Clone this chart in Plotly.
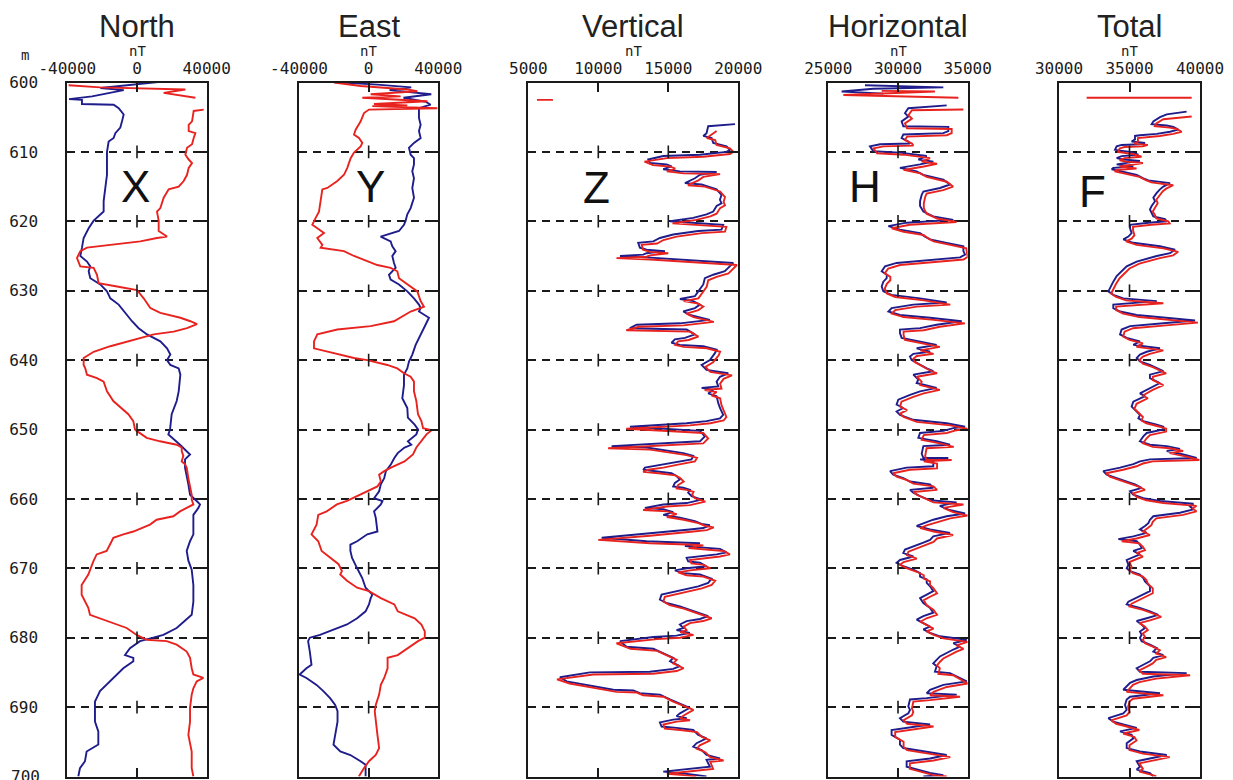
import plotly.graph_objects as go

# ---------------- data (depth in m, field in nT) ----------------
depth_ticks = [600, 610, 620, 630, 640, 650, 660, 670, 680, 690, 700]

north_blue_depth = [599.9, 600.8, 601.1, 602.0, 602.4, 602.5, 603.1, 603.2, 603.7, 604.6, 605.6, 606.5, 607.3, 608.0, 608.5, 610.0, 611.3, 613.3, 615.2, 617.1, 618.6, 619.9, 621.0, 622.4, 623.8, 625.0, 625.8, 626.5, 627.2, 628.2, 629.1, 630.1, 631.1, 632.0, 633.5, 634.4, 635.4, 636.3, 637.3, 638.3, 639.2, 640.0, 640.7, 641.2, 642.1, 644.5, 645.9, 647.8, 650.0, 650.7, 652.2, 653.6, 654.3, 655.5, 657.9, 659.4, 660.3, 660.8, 661.3, 662.3, 665.1, 666.1, 667.5, 668.9, 670.2, 672.4, 674.8, 676.7, 678.6, 679.1, 679.6, 680.0, 680.5, 681.5, 682.5, 682.9, 683.4, 684.4, 685.8, 686.8, 687.7, 688.2, 689.2, 690.1, 692.1, 693.5, 695.4, 696.4, 697.8, 698.8, 700.0]
north_blue_nt = [13400, -21000, -7600, -25800, -39000, -31600, -31600, -13400, -10500, -7650, -8600, -9570, -12440, -13400, -16270, -17230, -17230, -17230, -18180, -19140, -19140, -24880, -27750, -30620, -31580, -32540, -28710, -26800, -27750, -26800, -21050, -17230, -15310, -10530, -5740, -2870, 960, 5740, 13400, 17230, 19140, 17230, 19140, 23930, 24880, 23930, 22780, 19900, 18950, 17990, 24690, 30430, 27560, 27560, 29480, 30430, 34260, 36170, 35220, 32350, 32350, 30430, 28520, 29480, 31390, 32350, 32350, 31390, 22780, 18950, 15120, 9380, 1720, -4020, -6890, -2110, -2110, -7850, -13590, -17420, -21250, -22200, -24120, -24120, -24120, -22200, -22200, -28900, -29860, -32730, -33690]

north_red_depth = [600.4, 600.7, 601.0, 601.5, 602.2, None, 603.9, 604.1, 605.6, 606.1, 607.0, 607.3, 608.0, 608.9, 609.4, 610.4, 611.1, 611.6, 612.3, 613.3, 614.2, 615.0, 615.4, 616.6, 618.1, 618.6, 619.9, 621.4, 622.2, 622.4, 622.9, 623.4, 623.8, 624.3, 625.3, 626.5, 626.7, 627.7, 628.9, 629.4, 629.9, 631.1, 632.5, 633.2, 633.5, 633.9, 634.4, 634.8, 635.4, 635.9, 636.3, 636.8, 637.3, 638.0, 638.8, 639.7, 640.7, 641.2, 642.1, 642.6, 643.1, 644.5, 645.9, 647.4, 647.8, 648.8, 650.0, 650.2, 651.2, 651.7, 652.2, 652.6, 653.1, 653.8, 654.6, 655.0, 655.5, 657.0, 658.4, 659.4, 660.1, 660.8, 661.3, 661.8, 662.5, 663.0, 663.7, 664.7, 665.1, 665.6, 666.1, 667.5, 668.0, 669.0, 670.9, 672.4, 673.8, 674.8, 675.7, 676.7, 677.2, 678.1, 678.6, 679.6, 680.3, 680.5, 681.0, 682.0, 682.9, 684.4, 685.3, 685.8, 686.3, 687.3, 688.2, 690.1, 692.1, 694.0, 696.4, 698.8, 700.0]
north_red_nt = [-39240, -21050, 27750, 15310, 33500, None, 38280, 32540, 31580, 29670, 29670, 33500, 32540, 31580, 28710, 27750, 29670, 31580, 29670, 28710, 26800, 23930, 18180, 15310, 13400, 11480, 12440, 12440, 17230, 11480, 1910, -13400, -28710, -32540, -34450, -32540, -24880, -22970, -22010, -11480, 0, 3830, 7660, 13400, 19140, 24880, 30620, 34450, 28710, 21050, 9570, 1910, -5740, -15310, -24880, -30620, -30620, -29670, -28710, -22970, -19140, -17230, -13590, -6890, -4980, -2110, -1150, -190, 5550, 13210, 22780, 25650, 25650, 26600, 25650, 27560, 28520, 29480, 30430, 31390, 31390, 32350, 28520, 24690, 20860, 11290, 7460, -2110, -7850, -13590, -14550, -17420, -23160, -25070, -27940, -31770, -31770, -29860, -27940, -26990, -21250, -11680, -5930, -190, 5550, 17030, 22780, 28520, 30430, 31390, 32350, 38090, 34260, 32350, 31390, 30430, 30430, 29480, 31390, 31390, 32350]

east_blue_depth = [599.8, 600.3, 600.7, 601.1, 601.7, 602.2, 602.8, 603.2, 603.7, 605.1, 606.1, 607.0, 608.0, 608.7, 609.4, 610.4, 610.9, 611.8, 612.8, 613.8, 615.2, 616.6, 618.1, 619.0, 619.9, 620.5, 621.4, 622.2, 622.9, 623.6, 624.3, 625.0, 626.0, 626.7, 627.7, 628.4, 629.1, 630.1, 631.1, 632.0, 632.5, 633.0, 633.9, 634.9, 635.9, 636.8, 637.8, 639.2, 640.2, 641.2, 642.1, 643.6, 645.5, 646.9, 648.3, 649.3, 650.0, 650.7, 651.7, 652.2, 652.6, 653.4, 654.1, 655.0, 656.0, 657.0, 657.9, 658.9, 659.9, 660.3, 660.8, 661.8, 662.7, 664.7, 665.1, 666.1, 666.6, 667.5, 668.5, 670.0, 671.4, 672.8, 673.8, 674.3, 675.2, 676.2, 677.2, 678.1, 679.1, 679.6, 680.0, 680.5, 682.0, 683.9, 684.4, 685.3, 685.8, 686.8, 687.7, 688.7, 689.7, 690.6, 692.1, 694.0, 695.4, 696.4, 696.9, 697.8, 698.3, 700.0]
east_blue_nt = [-30200, 5000, 24460, 12000, 35970, 20000, 33000, 35600, 28900, 28900, 29860, 28900, 29860, 26030, 23160, 24120, 26030, 26030, 25070, 26030, 25070, 26030, 24120, 22200, 21250, 20290, 17420, 6890, 12630, 13590, 15500, 13590, 14550, 15500, 11680, 12630, 17420, 22200, 26030, 28900, 29860, 28900, 34640, 32730, 30820, 28900, 26990, 25070, 23160, 22200, 20290, 20290, 19330, 22200, 22530, 26410, 28350, 27380, 22530, 24470, 20590, 16700, 14760, 12820, 9900, 8930, 6990, 6020, 3110, 7960, 6990, 3110, 4080, 5050, -780, -6600, -10490, -10490, -9520, -6600, -3690, -1750, 2140, 1170, 190, -1750, -6600, -12430, -22140, -27960, -33790, -34760, -33790, -32820, -35730, -39620, -35730, -29910, -26020, -22140, -19230, -17870, -17870, -19230, -20200, -16310, -10490, -4660, -1750, -1750]

east_red_depth = [600.0, 600.5, 601.0, 601.25, 601.7, 602.0, 602.2, 602.7, 603.1, 603.3, 603.4, 603.7, 603.9, 604.4, 605.6, 606.8, 607.5, 608.0, 608.7, 609.2, 610.1, 610.9, 612.3, 613.3, 614.2, 615.2, 615.4, 617.1, 618.6, 619.5, 620.5, 621.0, 621.7, 622.4, 623.4, 623.8, 624.3, 625.0, 625.8, 626.3, 626.7, 627.2, 628.2, 629.1, 630.1, 631.5, 632.3, 633.0, 634.4, 635.1, 635.6, 636.3, 637.3, 638.3, 638.8, 639.7, 640.0, 640.7, 641.2, 641.9, 642.4, 643.1, 644.5, 645.9, 647.8, 648.8, 649.8, 650.1, 650.7, 651.7, 652.6, 653.6, 654.6, 655.5, 656.0, 656.5, 657.5, 658.2, 658.9, 659.9, 660.3, 660.8, 661.8, 662.3, 663.7, 665.1, 666.1, 667.5, 668.5, 669.4, 670.4, 670.9, 671.8, 672.8, 673.3, 674.3, 675.2, 676.2, 677.2, 678.1, 679.1, 680.0, 680.5, 681.5, 682.5, 682.9, 684.4, 685.8, 686.8, 688.2, 689.7, 690.6, 692.1, 694.0, 695.9, 696.9, 697.8, 698.8, 700.0]
east_red_nt = [-19900, -4590, 22200, 27940, 1150, 18370, -3640, 33690, 3060, 22200, 2110, 39430, 190, -2680, -4590, -7460, -8420, -5550, -3640, -4590, -8420, -10340, -12250, -14160, -17990, -23730, -26600, -27560, -28520, -30430, -32350, -29480, -25650, -29480, -26600, -27560, -14160, -8420, -770, 4980, 12630, 16460, 17420, 22200, 27940, 29860, 31770, 24120, 14550, 1150, -17990, -29480, -31390, -31390, -23730, -8420, -770, 10720, 16460, 20290, 24120, 26030, 26030, 27380, 28350, 30300, 31270, 36120, 33210, 30300, 27380, 25440, 20590, 12820, 8930, 6020, 6990, 5050, -780, -8540, -12430, -18250, -24080, -28940, -29910, -32820, -28940, -26990, -22140, -17280, -15340, -16310, -12430, -6600, 190, 6990, 14760, 16700, 26410, 30300, 32240, 32240, 28350, 22530, 16700, 10880, 10880, 8930, 6990, 6020, 4080, 3500, 4080, 5050, 6020, 4080, 190, -2720, -5630]

vert_blue_depth = [606.0, 606.3, 607.3, 607.7, 608.0, 608.7, 609.2, 609.7, 610.0, 610.4, 610.6, 611.1, 611.6, 611.8, 612.1, 612.5, 612.8, 612.9, 613.3, 613.8, 614.5, 614.7, 615.4, 616.2, 616.9, 617.4, 617.8, 618.6, 619.0, 619.5, 620.0, 620.5, 621.2, 621.4, 621.9, 622.4, 622.9, 623.1, 623.8, 624.1, 624.3, 624.6, 624.8, 625.0, 625.2, 626.0, 627.2, 627.7, 628.2, 629.1, 630.1, 630.8, 631.2, 631.5, 632.0, 632.5, 633.0, 633.5, 634.2, 634.7, 634.9, 635.4, 635.6, 636.3, 636.8, 637.0, 637.5, 637.8, 638.0, 638.5, 639.0, 640.0, 640.7, 641.4, 641.9, 642.4, 643.1, 643.8, 644.0, 644.3, 644.8, 645.2, 646.2, 646.9, 647.9, 648.4, 648.8, 649.1, 649.6, 650.2, 651.0, 651.7, 652.4, 652.6, 653.4, 653.8, 654.3, 654.8, 655.2, 655.5, 655.8, 656.0, 656.3, 656.7, 657.2, 657.7, 658.2, 658.4, 658.7, 659.1, 659.6, 660.1, 660.6, 660.8, 661.3, 661.5, 661.9, 662.3, 662.7, 663.2, 663.6, 663.8, 664.2, 664.4, 665.0, 665.6, 666.1, 666.3, 666.4, 666.8, 667.2, 667.7, 668.0, 668.5, 669.0, 669.2, 669.7, 670.0, 670.3, 670.7, 670.9, 671.5, 672.1, 672.6, 673.3, 673.8, 674.5, 675.0, 675.5, 676.2, 676.9, 677.3, 677.6, 678.1, 678.6, 678.9, 679.3, 679.7, 679.9, 680.5, 681.3, 681.6, 682.2, 682.9, 683.4, 684.1, 684.5, 684.9, 685.0, 685.7, 686.3, 686.8, 687.5, 687.6, 688.0, 688.2, 688.9, 689.7, 690.1, 690.9, 691.3, 691.6, 691.8, 692.2, 692.8, 693.0, 693.3, 694.0, 694.5, 695.2, 695.7, 696.2, 696.9, 697.4, 697.6, 698.6, 699.0, 699.3, 699.5, 700.0]
vert_blue_nt = [19760, 17850, 17730, 17500, 18090, 18210, 19160, 19400, 19160, 17260, 14640, 13570, 13690, 14880, 15230, 14640, 15830, 18450, 17260, 16900, 16190, 17380, 18450, 18800, 18690, 18800, 18450, 18210, 17730, 16780, 15120, 18920, 18800, 17140, 15350, 14400, 13930, 12850, 12970, 13450, 14760, 13450, 13210, 11550, 13450, 19640, 19040, 18210, 17610, 17500, 17140, 16900, 15830, 16780, 17260, 16900, 16070, 16540, 17970, 15830, 12740, 12260, 16310, 16900, 16190, 15470, 15230, 15830, 17500, 18450, 18330, 17970, 17380, 17730, 19280, 18690, 18450, 18570, 17380, 18210, 17850, 18450, 18570, 18690, 18920, 18690, 17730, 16310, 12260, 17260, 17610, 17260, 10950, 13450, 16070, 16780, 16660, 15350, 14400, 13330, 13210, 14040, 15230, 15590, 15830, 15470, 15350, 16070, 16540, 16420, 16660, 17380, 16310, 14640, 13330, 14640, 15350, 14640, 15830, 16900, 17380, 17970, 17500, 16540, 13450, 10240, 13450, 16540, 17260, 16190, 18690, 19160, 18450, 16310, 16420, 17260, 17730, 16310, 15470, 16070, 17260, 18090, 17850, 17140, 15590, 14520, 14400, 14880, 15830, 16780, 17850, 17260, 16310, 15830, 16070, 15590, 16540, 15590, 13930, 11550, 12020, 13930, 14640, 15350, 15120, 15830, 15350, 13690, 9400, 7260, 7740, 9170, 11070, 12500, 12970, 14400, 15120, 16070, 16540, 15830, 15590, 16310, 15350, 14400, 14520, 15590, 16780, 17140, 17730, 17020, 16780, 17380, 17730, 18690, 17730, 17970, 16310, 14640, 15830, 17730]

vert_red_depth = [602.5, 602.5, None, 607.0, 607.6, 608.0, 608.3, 609.0, 609.5, 610.0, 610.3, 610.7, 610.9, 611.4, 611.9, 612.1, 612.4, 612.8, 613.1, 613.2, 613.6, 614.1, 614.8, 615.0, 615.7, 616.5, 617.2, 617.7, 618.1, 618.9, 619.3, 619.8, 620.3, 620.8, 621.5, 621.7, 622.2, 622.7, 623.2, 623.4, 624.1, 624.4, 624.6, 624.9, 625.1, 625.3, 625.5, 626.3, 627.5, 628.0, 628.5, 629.4, 630.4, 631.1, 631.5, 631.8, 632.3, 632.8, 633.3, 633.8, 634.5, 635.0, 635.2, 635.7, 635.9, 636.6, 637.1, 637.3, 637.8, 638.1, 638.3, 638.8, 639.3, 640.3, 641.0, 641.7, 642.2, 642.7, 643.4, 644.1, 644.3, 644.6, 645.1, 645.5, 646.5, 647.2, 648.2, 648.7, 649.1, 649.4, 649.9, 650.5, 651.3, 652.0, 652.7, 652.9, 653.7, 654.1, 654.6, 655.1, 655.5, 655.8, 656.1, 656.3, 656.6, 657.0, 657.5, 658.0, 658.5, 658.7, 659.0, 659.4, 659.9, 660.4, 660.9, 661.1, 661.6, 661.8, 662.2, 662.6, 663.0, 663.5, 663.9, 664.1, 664.5, 664.7, 665.3, 665.9, 666.4, 666.6, 666.7, 667.1, 667.5, 668.0, 668.3, 668.8, 669.3, 669.5, 670.0, 670.3, 670.6, 671.0, 671.2, 671.8, 672.4, 672.9, 673.6, 674.1, 674.8, 675.3, 675.8, 676.5, 677.2, 677.6, 677.9, 678.4, 678.9, 679.2, 679.6, 680.0, 680.2, 680.8, 681.6, 681.9, 682.5, 683.2, 683.7, 684.4, 684.8, 685.2, 685.3, 686.0, 686.6, 687.1, 687.8, 687.9, 688.3, 688.5, 689.2, 690.0, 690.4, 691.2, 691.6, 691.9, 692.1, 692.5, 693.1, 693.3, 693.6, 694.3, 694.8, 695.5, 696.0, 696.5, 697.2, 697.7, 697.9, 698.9, 699.3, 699.6, 699.8, 700.0]
vert_red_nt = [5620, 6760, None, 18450, 18000, 17750, 18350, 18450, 19400, 19650, 19400, 17500, 14900, 13300, 13900, 15100, 15500, 14900, 16100, 18700, 17500, 17150, 16400, 17600, 18700, 19050, 18950, 19050, 18700, 18450, 18000, 17000, 15300, 19150, 19050, 17400, 15600, 14650, 14200, 13100, 13200, 13700, 15000, 13700, 13450, 11300, 13700, 19900, 19300, 18450, 17850, 17750, 17400, 17150, 16100, 17050, 17500, 17150, 16300, 16800, 18250, 16100, 12900, 12000, 16550, 17150, 16450, 15700, 15500, 16100, 17750, 18700, 18600, 18200, 17650, 18000, 19550, 18950, 18700, 18800, 17600, 18450, 18100, 18700, 18800, 18950, 19150, 18950, 18000, 16550, 12000, 17500, 17850, 17500, 10700, 13700, 16300, 17050, 16900, 15600, 14650, 13550, 13200, 14300, 15500, 15850, 16100, 15700, 15600, 16300, 16800, 16700, 16900, 17650, 16550, 14900, 13200, 14900, 15600, 14900, 16100, 17150, 17650, 18250, 17750, 16800, 13700, 10000, 13700, 16800, 17500, 16450, 18950, 19400, 18700, 16550, 16650, 17500, 18000, 16550, 15700, 16300, 17500, 18350, 18100, 17400, 15850, 14750, 14650, 15100, 16100, 17050, 18100, 17500, 16550, 16100, 16300, 15850, 16800, 15850, 14200, 11300, 12300, 14200, 14900, 15600, 15350, 16100, 15600, 13900, 9650, 7050, 7950, 9400, 11300, 12750, 13200, 14650, 15350, 16300, 16800, 16100, 15850, 16550, 15600, 14650, 14750, 15850, 17050, 17400, 18000, 17250, 17050, 17650, 18000, 18950, 18000, 18200, 16550, 14900, 16100, 17000]

horiz_blue_depth = [600.4, 600.7, 600.9, 601.3, 601.6, None, 603.3, 603.7, 604.4, 604.9, 605.6, 606.3, 606.4, 607.0, 607.3, 607.5, 608.0, 608.5, 608.8, 608.9, 609.2, 609.9, 610.1, 610.4, 610.6, 611.1, 611.4, 611.8, 612.3, 612.8, 613.3, 614.0, 614.7, 615.2, 615.7, 616.2, 617.1, 617.8, 618.6, 619.3, 619.8, 620.2, 620.7, 621.2, 621.7, 622.2, 622.6, 623.1, 623.6, 624.3, 624.8, 625.2, 625.5, 626.0, 626.5, 627.2, 627.7, 628.2, 628.7, 629.4, 630.1, 630.6, 631.1, 631.7, 632.0, 632.5, 633.0, 633.5, 633.9, 634.4, 634.9, 635.4, 635.6, 636.1, 636.8, 637.3, 637.8, 638.3, 638.8, 639.1, 639.5, 640.0, 640.7, 641.2, 641.6, 642.1, 642.8, 643.3, 644.0, 644.5, 645.0, 645.7, 646.4, 646.9, 647.4, 647.9, 648.6, 649.1, 649.6, 649.8, 650.2, 650.5, 651.2, 651.7, 652.2, 652.4, 653.5, 654.1, 654.1, 654.3, 654.6, 655.3, 655.5, 656.0, 656.5, 657.0, 657.5, 657.9, 658.4, 658.7, 659.1, 659.6, 660.2, 660.5, 661.0, 661.6, 662.1, 662.5, 663.0, 663.5, 663.9, 664.4, 664.9, 665.4, 665.9, 666.3, 667.3, 667.8, 668.3, 668.8, 669.2, 669.7, 670.2, 670.7, 671.2, 671.6, 672.1, 672.6, 673.3, 673.8, 674.3, 675.0, 675.7, 676.4, 676.9, 677.4, 677.9, 678.4, 678.8, 679.3, 679.8, 680.3, 680.8, 681.3, 681.7, 682.2, 682.7, 683.2, 683.7, 684.1, 684.9, 685.1, 686.3, 686.8, 687.5, 688.0, 688.2, 688.7, 688.9, 689.9, 690.4, 690.9, 691.6, 692.1, 692.5, 693.3, 694.0, 694.7, 695.4, 695.9, 696.4, 696.9, 697.4, 697.8, 698.6, 699.0, 699.5, 699.8, 700.0]
horiz_blue_nt = [27630, 33250, 28230, 25960, 28950, None, 33490, 30740, 30500, 30740, 30260, 30380, 33610, 33610, 33250, 30380, 30260, 30740, 30860, 28710, 27990, 28230, 30140, 31580, 32060, 31460, 32530, 31580, 30140, 31340, 31820, 33250, 33730, 33010, 31820, 31700, 31580, 31580, 31820, 32530, 33970, 30620, 29310, 30140, 31580, 31940, 32300, 33490, 34690, 34690, 34810, 34450, 32530, 29900, 29070, 28830, 29190, 29190, 28950, 28830, 28950, 29540, 31580, 33490, 31100, 29540, 29310, 30140, 32300, 34570, 32770, 31580, 30140, 30140, 30260, 31580, 32770, 31340, 32300, 31100, 30860, 30980, 31580, 32060, 32530, 31100, 31460, 31340, 32770, 31580, 30860, 30020, 29900, 30380, 29900, 30140, 31100, 33490, 34810, 33970, 33250, 31580, 31460, 32770, 33730, 31820, 31700, 31820, 33610, 31580, 32530, 32530, 30620, 29430, 29660, 30380, 30860, 32300, 32530, 30860, 31100, 31580, 32300, 34200, 33000, 33700, 34810, 33490, 32530, 31820, 31340, 32300, 33730, 32530, 32300, 31820, 30500, 30380, 31100, 30140, 29900, 30380, 31100, 31580, 31580, 32060, 32060, 32300, 32530, 32060, 31580, 31820, 32300, 32530, 31820, 31340, 31820, 32300, 31820, 32300, 33010, 34930, 33970, 34450, 33970, 33490, 33010, 32770, 32530, 32770, 32650, 33730, 34930, 33250, 32300, 32060, 34210, 32060, 30860, 30740, 30860, 30740, 30140, 30380, 32300, 29540, 29540, 30140, 30140, 30380, 31820, 33490, 32300, 30620, 30620, 31340, 32300, 33250, 31820]

horiz_red_depth = [601.2, 601.3, 601.8, 602.2, None, 603.9, 604.0, 604.7, 605.2, 605.9, 606.6, 606.7, 607.3, 607.6, 607.8, 608.3, 608.8, 609.1, 609.2, 609.5, 610.2, 610.4, 610.7, 610.9, 611.4, 611.7, 612.1, 612.6, 613.1, 613.6, 614.3, 615.0, 615.5, 616.0, 616.5, 617.4, 618.1, 618.9, 619.6, 620.1, 620.5, 621.0, 621.5, 622.0, 622.5, 622.9, 623.4, 623.9, 624.6, 625.1, 625.5, 625.8, 626.3, 626.8, 627.5, 628.0, 628.5, 629.0, 629.7, 630.4, 630.9, 631.4, 632.0, 632.3, 632.8, 633.3, 633.8, 634.2, 634.7, 635.2, 635.7, 635.9, 636.4, 637.1, 637.6, 638.1, 638.6, 639.1, 639.4, 639.8, 640.3, 641.0, 641.5, 641.9, 642.4, 643.1, 643.6, 644.3, 644.8, 645.3, 646.0, 646.7, 647.2, 647.7, 648.2, 648.9, 649.4, 649.9, 650.1, 650.5, 650.8, 651.5, 652.0, 652.5, 652.7, 653.8, 654.4, 654.4, 654.6, 654.9, 655.6, 655.8, 656.3, 656.8, 657.3, 657.8, 658.2, 658.7, 659.0, 659.4, 659.9, 660.5, 660.8, 661.3, 661.9, 662.4, 662.8, 663.3, 663.8, 664.2, 664.7, 665.2, 665.7, 666.2, 666.6, 667.6, 668.1, 668.6, 669.1, 669.5, 670.0, 670.5, 671.0, 671.5, 671.9, 672.4, 672.9, 673.6, 674.1, 674.6, 675.3, 676.0, 676.7, 677.2, 677.7, 678.2, 678.7, 679.1, 679.6, 680.1, 680.6, 681.1, 681.6, 682.0, 682.5, 683.0, 683.5, 684.0, 684.4, 685.2, 685.4, 686.6, 687.1, 687.8, 688.3, 688.5, 689.0, 689.2, 690.2, 690.7, 691.2, 691.9, 692.4, 692.8, 693.6, 694.3, 695.0, 695.7, 696.2, 696.7, 697.2, 697.7, 698.1, 698.9, 699.3, 699.8, 700.0]
horiz_red_nt = [28830, 32650, 26080, 34330, None, 34690, 31000, 30750, 31000, 30500, 30650, 33850, 33850, 33500, 30650, 30500, 31000, 31100, 28950, 28250, 28500, 30400, 31850, 32300, 31700, 32800, 31850, 30400, 31600, 32050, 33500, 33950, 33250, 32050, 31950, 31850, 31850, 32050, 32800, 34200, 30850, 29550, 30400, 31850, 32200, 32550, 33750, 34900, 34950, 35000, 34700, 32800, 30150, 29300, 29050, 29450, 29450, 29200, 29050, 29200, 29800, 31850, 33750, 31350, 29800, 29550, 30400, 32550, 34800, 33000, 31850, 30400, 30400, 30500, 31850, 33000, 31600, 32550, 31350, 31100, 31200, 31850, 32300, 32800, 31350, 31700, 31600, 33000, 31850, 31100, 30250, 30150, 30650, 30150, 30400, 31350, 33750, 35000, 34200, 33500, 31850, 31700, 33000, 34000, 32050, 31950, 32050, 33850, 31850, 32800, 32800, 30850, 29650, 29900, 30650, 31100, 32550, 32800, 31100, 31350, 31850, 32550, 34700, 33250, 33950, 35000, 33750, 32800, 32050, 31600, 32550, 33950, 32800, 32550, 32050, 30750, 30650, 31350, 30400, 30150, 30650, 31350, 31850, 31850, 32300, 32300, 32550, 32800, 32300, 31850, 32050, 32550, 32800, 32050, 31600, 32050, 32550, 32050, 32550, 33250, 35000, 34200, 34700, 34200, 33750, 33250, 33000, 32800, 33000, 32900, 33950, 35000, 33500, 32550, 32300, 34450, 32300, 31100, 31000, 31100, 31000, 30400, 30650, 32550, 29800, 29800, 30400, 30400, 30650, 32050, 33750, 32550, 30850, 30850, 31600, 32550, 33500]

total_blue_depth = [604.2, 604.4, 604.6, 605.0, 605.6, 606.0, 606.2, 606.4, 606.8, 607.1, 607.4, 607.6, 607.7, 608.2, 608.5, 608.7, 608.9, 609.0, 609.2, 609.7, 610.0, 610.4, 610.6, 610.9, 611.1, 611.3, 611.6, 611.8, 612.1, 612.3, 612.5, 612.8, 613.3, 613.8, 614.1, 614.5, 615.0, 615.4, 615.9, 616.6, 617.1, 617.8, 618.3, 618.8, 619.3, 619.7, 620.0, 620.2, 620.5, 621.0, 621.7, 622.2, 622.6, 623.1, 623.6, 624.1, 624.6, 625.0, 625.3, 625.8, 626.5, 627.2, 627.9, 628.7, 629.6, 630.1, 630.6, 631.1, 631.5, 632.0, 632.5, 633.0, 633.5, 633.9, 634.3, 634.7, 635.1, 635.6, 636.3, 636.8, 637.3, 637.8, 638.3, 638.8, 639.2, 639.7, 640.2, 640.7, 641.2, 641.6, 642.1, 642.6, 643.3, 644.0, 644.8, 645.2, 646.0, 646.7, 647.4, 647.9, 648.4, 648.8, 649.3, 649.6, 650.0, 650.5, 651.0, 651.7, 652.2, 652.4, 652.8, 653.1, 653.6, 654.1, 654.3, 654.6, 655.0, 655.5, 656.0, 656.5, 657.0, 657.5, 657.9, 658.4, 658.9, 659.4, 659.9, 660.3, 660.7, 661.1, 661.5, 662.0, 662.5, 663.0, 663.5, 663.9, 664.4, 664.9, 665.4, 665.8, 666.1, 666.6, 667.1, 667.5, 668.0, 668.8, 669.5, 670.0, 670.4, 670.9, 671.4, 671.9, 672.6, 673.3, 674.0, 674.8, 675.2, 675.7, 676.2, 676.7, 677.2, 677.6, 678.1, 678.6, 679.1, 679.6, 680.0, 680.5, 681.0, 681.5, 682.0, 682.5, 682.9, 683.4, 683.9, 684.4, 684.9, 685.1, 685.6, 686.1, 686.5, 687.0, 687.5, 688.0, 688.5, 688.9, 689.7, 690.4, 690.9, 691.6, 692.1, 692.5, 693.0, 693.5, 694.0, 694.5, 695.2, 695.9, 696.4, 696.9, 697.4, 697.8, 698.6, 699.0, 699.5, 700.0]
total_blue_nt = [39050, 38110, 37640, 37160, 36690, 36570, 37640, 38110, 38460, 37870, 36930, 35740, 35390, 35390, 35150, 36100, 35740, 34440, 34090, 33970, 35040, 35630, 34440, 34090, 34560, 35740, 34560, 34090, 35270, 33850, 33740, 34440, 35510, 35980, 36340, 37870, 37400, 37160, 36930, 36690, 36810, 36570, 36450, 36570, 36690, 37520, 37640, 36340, 35040, 35040, 35150, 34920, 34560, 35270, 37160, 38230, 37870, 36930, 36450, 35510, 34800, 34440, 34090, 33850, 33620, 33500, 33850, 34560, 36930, 33850, 33850, 34330, 35510, 37870, 39650, 37400, 35040, 34440, 34330, 34800, 35740, 35270, 37160, 36220, 35740, 35510, 35740, 36450, 36930, 37400, 36450, 36450, 37160, 36450, 35740, 36100, 35270, 35150, 35510, 35740, 35630, 35980, 36930, 37400, 37400, 36220, 35980, 35740, 36450, 37640, 38580, 37640, 38820, 39760, 36450, 35740, 35270, 34330, 33140, 33380, 34090, 34800, 35390, 35860, 35040, 35270, 35980, 37160, 39530, 39290, 39530, 38580, 36690, 36450, 36340, 36100, 35740, 36220, 35270, 34210, 35510, 35740, 35860, 35270, 35740, 34800, 34920, 34800, 35040, 35740, 35980, 36100, 36450, 36450, 35740, 34920, 34800, 35740, 36450, 37040, 36220, 35510, 35860, 36100, 35740, 35860, 35740, 35860, 36450, 36930, 36690, 37400, 36690, 36450, 35980, 35510, 35740, 39050, 36690, 35510, 35040, 34800, 34560, 37160, 35040, 34800, 34680, 34800, 34560, 33500, 33850, 34560, 35510, 34330, 35150, 35270, 34800, 34800, 35740, 37640, 36450, 35510, 35740, 35510, 36450, 36690]

total_red_depth = [602.2, 602.2, None, 604.9, 605.3, 605.9, 606.3, 606.5, 606.7, 607.1, 607.4, 607.7, 607.9, 608.0, 608.5, 608.8, 609.0, 609.2, 609.3, 609.5, 610.0, 610.3, 610.7, 610.9, 611.2, 611.4, 611.6, 611.9, 612.1, 612.4, 612.6, 612.8, 613.1, 613.6, 614.1, 614.4, 614.8, 615.3, 615.7, 616.2, 616.9, 617.4, 618.1, 618.6, 619.1, 619.6, 620.0, 620.3, 620.5, 620.8, 621.3, 622.0, 622.5, 622.9, 623.4, 623.9, 624.4, 624.9, 625.3, 625.6, 626.1, 626.8, 627.5, 628.2, 629.0, 629.9, 630.4, 630.9, 631.4, 631.8, 632.3, 632.8, 633.3, 633.8, 634.2, 634.6, 635.0, 635.4, 635.9, 636.6, 637.1, 637.6, 638.1, 638.6, 639.1, 639.5, 640.0, 640.5, 641.0, 641.5, 641.9, 642.4, 642.9, 643.6, 644.3, 645.1, 645.5, 646.3, 647.0, 647.7, 648.2, 648.7, 649.1, 649.6, 649.9, 650.3, 650.8, 651.3, 652.0, 652.5, 652.7, 653.1, 653.4, 653.9, 654.4, 654.6, 654.9, 655.3, 655.8, 656.3, 656.8, 657.3, 657.8, 658.2, 658.7, 659.2, 659.7, 660.2, 660.6, 661.0, 661.4, 661.8, 662.3, 662.8, 663.3, 663.8, 664.2, 664.7, 665.2, 665.7, 666.1, 666.4, 666.9, 667.4, 667.8, 668.3, 669.1, 669.8, 670.3, 670.7, 671.2, 671.7, 672.2, 672.9, 673.6, 674.3, 675.1, 675.5, 676.0, 676.5, 677.0, 677.5, 677.9, 678.4, 678.9, 679.4, 679.9, 680.3, 680.8, 681.3, 681.8, 682.3, 682.8, 683.2, 683.7, 684.2, 684.7, 685.2, 685.4, 685.9, 686.4, 686.8, 687.3, 687.8, 688.3, 688.8, 689.2, 690.0, 690.7, 691.2, 691.9, 692.4, 692.8, 693.3, 693.8, 694.3, 694.8, 695.5, 696.2, 696.7, 697.2, 697.7, 698.1, 698.9, 699.3, 699.8, 700.0]
total_red_nt = [31960, 39410, None, 39410, 37400, 36900, 36800, 37850, 38350, 38700, 38100, 37150, 35950, 35600, 35600, 35350, 36300, 35950, 34650, 34300, 34200, 35250, 35850, 34650, 34300, 34750, 35950, 34750, 34300, 35500, 34050, 33950, 34650, 35700, 36200, 36550, 38100, 37600, 37350, 37150, 36900, 37000, 36800, 36650, 36800, 36900, 37750, 37850, 36550, 35250, 35250, 35350, 35150, 34750, 35500, 37400, 38450, 38100, 37150, 36650, 35700, 35000, 34650, 34300, 34050, 33850, 33700, 34050, 34750, 37400, 34050, 34050, 34550, 35700, 38100, 39850, 37600, 35250, 34650, 34550, 35000, 35950, 35500, 37400, 36450, 35950, 35700, 35950, 36650, 37150, 37600, 36650, 36650, 37400, 36650, 35950, 36300, 35500, 35350, 35700, 35950, 35850, 36200, 37150, 37600, 37600, 36450, 36200, 35950, 36650, 37850, 38800, 37850, 39050, 39950, 36650, 35950, 35500, 34550, 33350, 33600, 34300, 35000, 35600, 36100, 35250, 35500, 36200, 37400, 39750, 39500, 39750, 38800, 36900, 36650, 36550, 36300, 35950, 36450, 35500, 34450, 35700, 35950, 36100, 35500, 35950, 35000, 35150, 35000, 35250, 35950, 36200, 36300, 36650, 36650, 35950, 35150, 35000, 35950, 36650, 37250, 36450, 35700, 36100, 36300, 35950, 36100, 35950, 36100, 36650, 37150, 36900, 37600, 36900, 36650, 36200, 35700, 35950, 39300, 36900, 35700, 35250, 35000, 34800, 37400, 35250, 35000, 34900, 35000, 34800, 33700, 34050, 34800, 35700, 34550, 35350, 35500, 35000, 35000, 35950, 37850, 36650, 35700, 35950, 35700, 36650, 36900]

# panel definitions: title, letter, x range, tick values, tick labels
panel_titles = ["North", "East", "Vertical", "Horizontal", "Total"]
panel_letters = ["X", "Y", "Z", "H", "F"]
panel_ranges = [[-40000, 40000], [-40000, 40000], [5000, 20000], [25000, 35000], [30000, 40000]]
panel_tickvals = [[-40000, 0, 40000], [-40000, 0, 40000], [5000, 10000, 15000, 20000], [25000, 30000, 35000], [30000, 35000, 40000]]
panel_ticktext = [["-40000", "0", "40000"], ["-40000", "0", "40000"], ["5000", "10000", "15000", "20000"], ["25000", "30000", "35000"], ["30000", "35000", "40000"]]

blue_series = [(north_blue_depth, north_blue_nt), (east_blue_depth, east_blue_nt), (vert_blue_depth, vert_blue_nt), (horiz_blue_depth, horiz_blue_nt), (total_blue_depth, total_blue_nt)]
red_series = [(north_red_depth, north_red_nt), (east_red_depth, east_red_nt), (vert_red_depth, vert_red_nt), (horiz_red_depth, horiz_red_nt), (total_red_depth, total_red_nt)]

# ---------------- layout geometry / style ----------------
W, H = 1233, 780
x_domains_px = [(67.3, 206.7), (299.0, 438.3), (528.3, 738.3), (828.3, 967.7), (1059.0, 1200.0)]
y_top_px, y_bot_px = 82.5, 776.5
letter_pos = [(0.486, 186), (0.511, 186), (0.323, 187), (0.263, 186), (0.241, 191)]

BLUE = "#1f1d8c"
RED = "#e8231f"
INK = "#1a1a1a"
TICK_FONT = dict(family="DejaVu Sans Mono", size=16, color=INK)
UNIT_FONT = dict(family="DejaVu Sans Mono", size=14, color=INK)
TITLE_FONT = dict(family="Liberation Sans, Arial", size=31, color="#222222")

fig = go.Figure()
layout_axes = {}
annotations = []
grid_depths = [d for d in depth_ticks if 600 < d < 700]

for i in range(5):
    n = "" if i == 0 else str(i + 1)
    xa, ya = "x" + n, "y" + n
    bd, bv = blue_series[i]
    rd, rv = red_series[i]
    fig.add_trace(go.Scatter(x=bv, y=bd, xaxis=xa, yaxis=ya, mode="lines",
                             line=dict(color=BLUE, width=1.9), connectgaps=False,
                             hoverinfo="skip", showlegend=False))
    fig.add_trace(go.Scatter(x=rv, y=rd, xaxis=xa, yaxis=ya, mode="lines",
                             line=dict(color=RED, width=1.9), connectgaps=False,
                             hoverinfo="skip", showlegend=False))
    # little vertical tick marks where interior x ticks cross the dashed grid
    inner = [t for t in panel_tickvals[i] if panel_ranges[i][0] < t < panel_ranges[i][1]]
    cx = [t for t in inner for _ in grid_depths]
    cy = [d for _ in inner for d in grid_depths]
    fig.add_trace(go.Scatter(x=cx, y=cy, xaxis=xa, yaxis=ya, mode="markers",
                             marker=dict(symbol="line-ns", size=9, line=dict(color=INK, width=1.6)),
                             hoverinfo="skip", showlegend=False))

    x0, x1 = x_domains_px[i]
    layout_axes["xaxis" + n] = dict(
        domain=[x0 / W, x1 / W], anchor=ya, side="top", range=panel_ranges[i],
        tickmode="array", tickvals=panel_tickvals[i], ticktext=panel_ticktext[i],
        ticks="inside", ticklen=9, tickwidth=1.6, tickcolor=INK,
        showline=True, linecolor=INK, linewidth=2, mirror="ticks",
        showgrid=False, zeroline=False, tickfont=TICK_FONT, automargin=False,
        ticklabelstandoff=0, fixedrange=True)
    layout_axes["yaxis" + n] = dict(
        domain=[1 - y_bot_px / H, 1 - y_top_px / H], anchor=xa, range=[700, 600],
        tickmode="array", tickvals=depth_ticks, ticktext=[str(d) for d in depth_ticks],
        ticks="inside", ticklen=8, tickwidth=1.6, tickcolor=INK,
        showline=True, linecolor=INK, linewidth=2, mirror="ticks",
        showgrid=True, gridcolor=INK, gridwidth=1.5, griddash="8px,6px",
        zeroline=False, showticklabels=(i == 0), tickfont=TICK_FONT,
        ticklabelstandoff=24, automargin=False, fixedrange=True)

    annotations.append(dict(text=panel_titles[i], xref=xa + " domain", yref="paper",
                            x=0.5, y=1 - 27 / H, showarrow=False, xanchor="center",
                            yanchor="middle", font=TITLE_FONT))
    annotations.append(dict(text="nT", xref=xa + " domain", yref="paper",
                            x=0.5, y=1 - 51 / H, showarrow=False, xanchor="center",
                            yanchor="middle", font=UNIT_FONT))
    lx, ly = letter_pos[i]
    annotations.append(dict(text=panel_letters[i], xref=xa + " domain", yref="paper",
                            x=lx, y=1 - ly / H, showarrow=False, xanchor="center",
                            yanchor="middle",
                            font=dict(family="Liberation Sans, Arial", size=44, color="#111111")))

annotations.append(dict(text="m", xref="paper", yref="paper", x=25 / W, y=1 - 55 / H,
                        showarrow=False, xanchor="center", yanchor="middle", font=UNIT_FONT))
# bottom depth label (700) sits on the lower edge of the figure, partly cut off as in the original
annotations.append(dict(text=str(depth_ticks[-1]), xref="paper", yref="y", x=42 / W,
                        y=depth_ticks[-1], showarrow=False, xanchor="right", yanchor="middle",
                        font=TICK_FONT))

fig.update_layout(template="none", width=W, height=H, margin=dict(l=0, r=0, t=0, b=0),
                  paper_bgcolor="white", plot_bgcolor="white",
                  annotations=annotations, showlegend=False, **layout_axes)

fig.write_html("out.html", config={"displayModeBar": False},
               post_script="document.body.style.margin='0';document.body.style.overflow='hidden';")
